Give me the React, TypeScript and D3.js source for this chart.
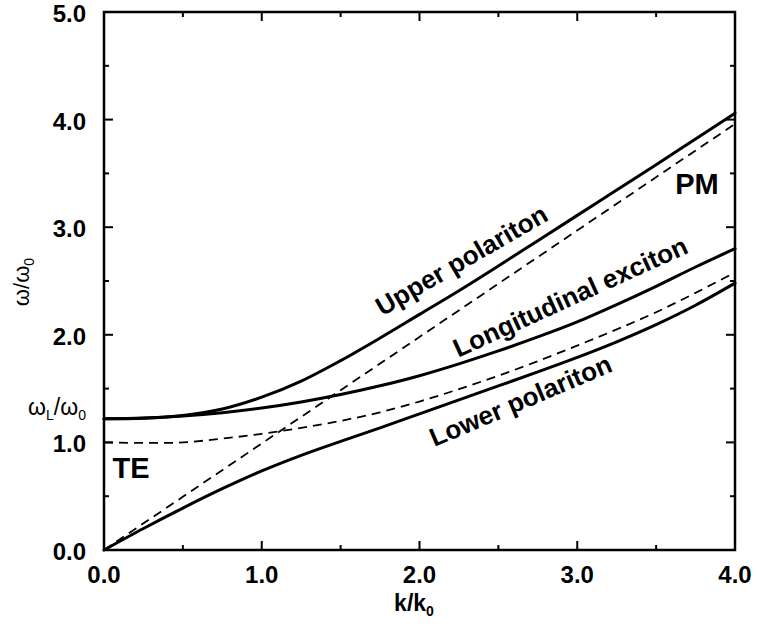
import React from "react";
import * as d3 from "d3";

// Wavevector grid (k/k0) shared by the dispersion branches
const kGrid = [0, 0.25, 0.5, 0.75, 1.0, 1.25, 1.5, 1.75, 2.0, 2.25, 2.5, 2.75, 3.0, 3.25, 3.5, 3.75, 4.0];

// Frequencies (ω/ω0) of each branch on kGrid
const upperPolariton = [1.22, 1.225, 1.25, 1.31, 1.42, 1.57, 1.76, 1.97, 2.19, 2.41, 2.64, 2.875, 3.11, 3.345, 3.58, 3.82, 4.06];
const longitudinalExciton = [1.22, 1.226, 1.245, 1.276, 1.32, 1.376, 1.445, 1.526, 1.62, 1.73, 1.85, 1.98, 2.12, 2.28, 2.45, 2.63, 2.8];
const lowerPolariton = [0, 0.2, 0.39, 0.57, 0.735, 0.88, 1.01, 1.135, 1.265, 1.395, 1.525, 1.655, 1.79, 1.935, 2.095, 2.275, 2.48];
const transverseExciton = [1.0, 0.995, 1.0, 1.035, 1.08, 1.135, 1.2, 1.28, 1.38, 1.495, 1.62, 1.755, 1.9, 2.05, 2.21, 2.39, 2.58];
// Bare photon line (ω = ck), end points
const photonK = [0, 4.0];
const photonW = [0, 3.96];

const omegaL = 1.22;

const xTicks = [0, 1, 2, 3, 4];
const yTicks = [0, 1, 2, 3, 4, 5];
const xMinor = [0.5, 1.5, 2.5, 3.5];
const yMinor = [0.5, 1.5, 2.5, 3.5, 4.5];

const W = 757;
const H = 635;
const left = 104;
const right = 735;
const top = 12;
const bottom = 550;

const FONT = "'Liberation Sans', Arial, Helvetica, sans-serif";

export default function App() {
  const x = d3.scaleLinear().domain([0, 4]).range([left, right]);
  const y = d3.scaleLinear().domain([0, 5]).range([bottom, top]);

  const line = d3
    .line<[number, number]>()
    .x((d) => x(d[0]))
    .y((d) => y(d[1]))
    .curve(d3.curveCatmullRom.alpha(0.5));

  const pts = (vals: number[]) => kGrid.map((k, i) => [k, vals[i]] as [number, number]);
  const photonPts = photonK.map((k, i) => [k, photonW[i]] as [number, number]);

  const major = 9;
  const minor = 5;

  return (
    <svg
      width={W}
      height={H}
      style={{ position: "absolute", left: 0, top: 0, background: "#fff" }}
      fontFamily={FONT}
    >
      <rect x={0} y={0} width={W} height={H} fill="#fff" />

      {/* dispersion branches */}
      <g fill="none" stroke="#000" strokeLinejoin="round" strokeLinecap="round">
        <path d={line(pts(upperPolariton)) || ""} strokeWidth={3} />
        <path d={line(pts(longitudinalExciton)) || ""} strokeWidth={3} />
        <path d={line(pts(lowerPolariton)) || ""} strokeWidth={3} />
        <path d={line(pts(transverseExciton)) || ""} strokeWidth={1.8} strokeDasharray="9 6" strokeLinecap="butt" />
        <path d={line(photonPts) || ""} strokeWidth={1.8} strokeDasharray="9 6" strokeLinecap="butt" />
      </g>

      {/* frame */}
      <rect
        x={left}
        y={top}
        width={right - left}
        height={bottom - top}
        fill="none"
        stroke="#000"
        strokeWidth={2.5}
      />

      {/* ticks, pointing inward on all sides */}
      <g stroke="#000" strokeWidth={2}>
        {xTicks.map((t) => (
          <g key={"xt" + t}>
            <line x1={x(t)} x2={x(t)} y1={bottom} y2={bottom - major} />
            <line x1={x(t)} x2={x(t)} y1={top} y2={top + major} />
          </g>
        ))}
        {xMinor.map((t) => (
          <g key={"xm" + t}>
            <line x1={x(t)} x2={x(t)} y1={bottom} y2={bottom - minor} />
            <line x1={x(t)} x2={x(t)} y1={top} y2={top + minor} />
          </g>
        ))}
        {yTicks.map((t) => (
          <g key={"yt" + t}>
            <line x1={left} x2={left + major} y1={y(t)} y2={y(t)} />
            <line x1={right} x2={right - major} y1={y(t)} y2={y(t)} />
          </g>
        ))}
        {yMinor.map((t) => (
          <g key={"ym" + t}>
            <line x1={left} x2={left + minor} y1={y(t)} y2={y(t)} />
            <line x1={right} x2={right - minor} y1={y(t)} y2={y(t)} />
          </g>
        ))}
      </g>

      {/* tick labels */}
      <g fontWeight="bold" fontSize={24} fill="#000">
        {xTicks.map((t) => (
          <text key={"xl" + t} x={x(t)} y={583} textAnchor="middle">
            {t.toFixed(1)}
          </text>
        ))}
        {yTicks.map((t) => (
          <text key={"yl" + t} x={86} y={y(t) + 10} textAnchor="end">
            {t.toFixed(1)}
          </text>
        ))}
      </g>

      {/* ωL / ω0 marker label */}
      <text x={86} y={y(omegaL) - 4} textAnchor="end" fontSize={23} fill="#000">
        ω<tspan fontSize={14} dy={5}>L</tspan>
        <tspan dy={-5}>/ω</tspan>
        <tspan fontSize={14} dy={5}>0</tspan>
      </text>

      {/* axis titles */}
      <text transform="translate(29,282) rotate(-90)" textAnchor="middle" fontSize={22} fill="#000">
        ω/ω<tspan fontSize={14} dy={5}>0</tspan>
      </text>
      <text x={414} y={611} textAnchor="middle" fontSize={23} fontWeight="bold" fill="#000">
        k/k<tspan fontSize={14} dy={5}>0</tspan>
      </text>

      {/* branch labels */}
      <g fontWeight="bold" fill="#000" textAnchor="middle">
        <text transform="translate(466,268) rotate(-30)" fontSize={26}>
          Upper polariton
        </text>
        <text transform="translate(574,305) rotate(-24.5)" fontSize={26}>
          Longitudinal exciton
        </text>
        <text transform="translate(524,409) rotate(-23)" fontSize={26}>
          Lower polariton
        </text>
        <text x={131} y={478} fontSize={29}>
          TE
        </text>
        <text x={697} y={194} fontSize={29}>
          PM
        </text>
      </g>
    </svg>
  );
}
